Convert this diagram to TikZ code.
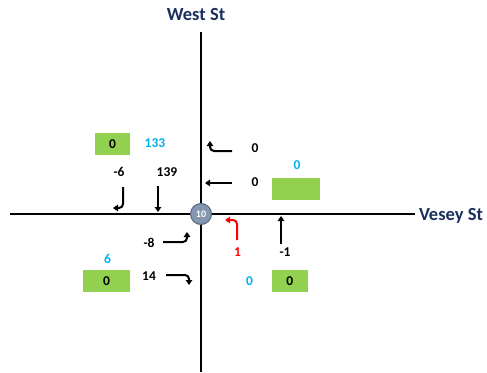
\documentclass[tikz,border=0pt]{standalone}
\usepackage{fontspec}
\setmainfont{Carlito}
\usetikzlibrary{arrows.meta}
\definecolor{streetblue}{HTML}{1B2F5E}
\definecolor{boxgreen}{HTML}{92D050}
\definecolor{cntblue}{HTML}{00B0F0}
\definecolor{nodegray}{HTML}{8497B0}
\definecolor{nodeedge}{HTML}{56657D}
\tikzset{
  lbl/.style={font=\bfseries\fontsize{13.5}{15}\selectfont, inner sep=0pt},
  street/.style={font=\bfseries\fontsize{18.5}{20}\selectfont, text=streetblue, inner sep=0pt},
  volbox/.style={fill=boxgreen, minimum height=22.5pt, inner sep=0pt, font=\bfseries\fontsize{13.5}{15}\selectfont},
  mvt/.style={line width=2pt, -{Triangle[length=5pt,width=6.5pt]}}
}
\begin{document}
\begin{tikzpicture}[x=1pt,y=-1pt,line width=2pt]
\useasboundingbox (0,0) rectangle (487,372);
% streets
\coordinate (wn) at (201,32);
\coordinate (ws) at (201,372);
\coordinate (vw) at (10,214);
\coordinate (ve) at (415,214);
\draw (wn) -- (ws);
\draw (vw) -- (ve);
\node[street] (weststname) at (196,15) {West St};
\node[street, anchor=west] (veseystname) at (418,216) {Vesey St};
% intersection
\node[circle, fill=nodegray, draw=nodeedge, line width=1pt, minimum size=21pt, inner sep=0pt,
  text=white, font=\bfseries\fontsize{10}{10}\selectfont] (int) at (201,214) {10};
% green boxes
\node[volbox, minimum width=35pt] (boxnw) at (112.5,144) {0};
\node[volbox, minimum width=48pt] (boxne) at (296,189) {};
\node[volbox, minimum width=47pt] (boxsw) at (106.5,281) {0};
\node[volbox, minimum width=36pt] (boxse) at (289.7,281) {0};
% counts
\node[lbl, text=cntblue] (cntn) at (155,143.5) {133};
\node[lbl, text=cntblue] (cnte) at (297,165) {0};
\node[lbl, text=cntblue] (cntw) at (107.5,259) {6};
\node[lbl, text=cntblue] (cnts) at (249.5,281) {0};
\node[lbl] (sbr) at (119,172) {-6};
\node[lbl] (sbt) at (167,172) {139};
\node[lbl] (wbl) at (255,148.5) {0};
\node[lbl] (wbt) at (255,182.5) {0};
\node[lbl] (ebl) at (149,242.5) {-8};
\node[lbl] (ebr) at (149,276) {14};
\node[lbl, text=red] (nbl) at (237.5,252.5) {1};
\node[lbl] (nbt) at (285,252.5) {-1};
% movements
\draw[mvt] (123,187) -- (123,204) to[out=-90,in=0] (119,208) -- (113,208);
\draw[mvt] (158,186) -- (158,212);
\draw[mvt] (232,151) -- (214,151) to[out=180,in=-90] (210,147) -- (210,141);
\draw[mvt] (232,183) -- (205,183);
\draw[mvt] (163,242) -- (183,242) to[out=0,in=-90] (187,238) -- (187,232);
\draw[mvt] (166,275) -- (185,275) to[out=0,in=90] (189,279) -- (189,285);
\draw[mvt, red] (237,240) -- (237,224) to[out=90,in=0] (233,220) -- (225,220);
\draw[mvt] (281,244) -- (281,216);
\end{tikzpicture}
\end{document}
